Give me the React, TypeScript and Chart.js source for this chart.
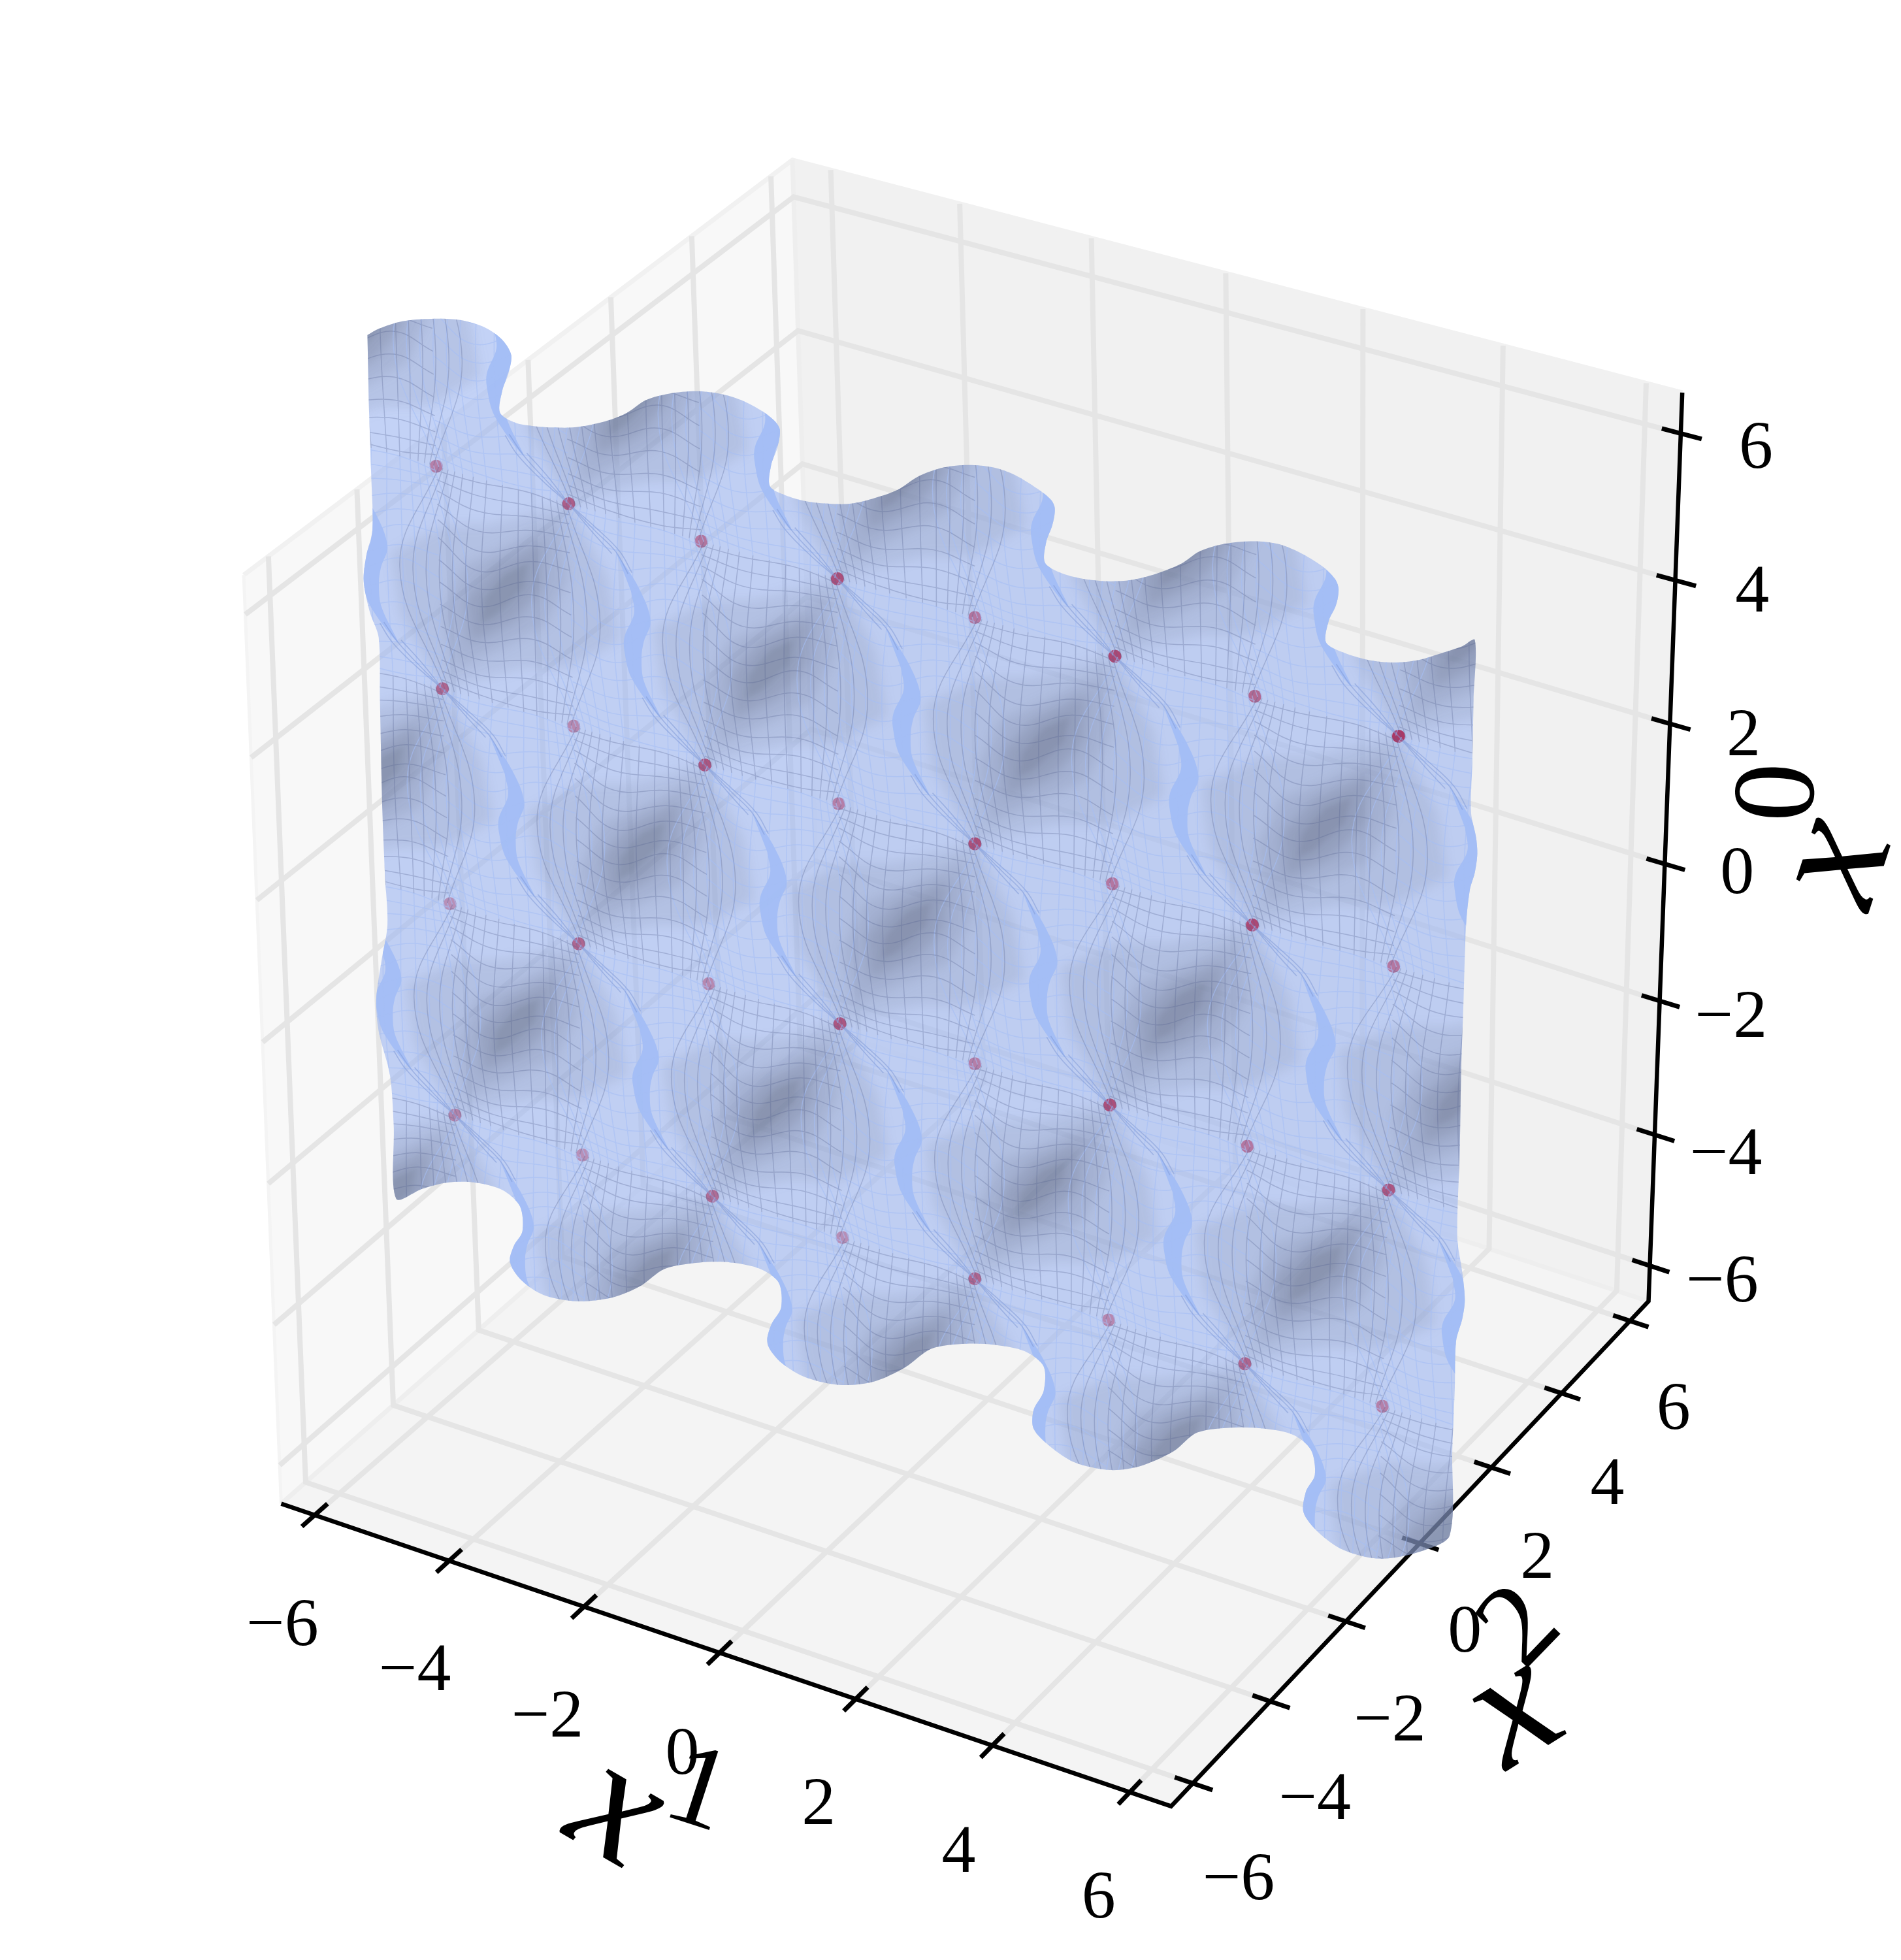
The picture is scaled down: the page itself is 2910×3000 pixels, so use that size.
import React, { useEffect, useRef } from "react";
import { Chart, registerables } from "chart.js";

// ---- data (plot units: 1521 x 1568 plane) ----
const tickValues = [-6, -4, -2, 0, 2, 4, 6];
const tickLabels = ["\u22126", "\u22124", "\u22122", "0", "2", "4", "6"];
const axisLimit = 6.55;

const floorCorners = [[225, 1203], [937, 1445], [1319, 1041], [657, 823]];
const wallLeftCorners = [[225, 1203], [657, 823], [634, 128], [195, 460]];
const wallRightCorners = [[657, 823], [1319, 1041], [1346, 314], [634, 128]];

const x1LabelX = [226, 332, 438, 546, 655, 767, 879];
const x1LabelY = [1302, 1338, 1375, 1405, 1445, 1483, 1520];
const x2LabelX = [991, 1052, 1112, 1172, 1230, 1286, 1339];
const x2LabelY = [1505, 1441, 1378, 1307, 1248, 1189, 1129];
const x0LabelX = [1378, 1381, 1385, 1390, 1395, 1402, 1405];
const x0LabelY = [1027, 925, 815, 700, 590, 475, 360];

// lattice of marked points; rows -1 and 4, columns -1 and 8 lie off the surface
const latticeX = [
  [237, 344, 451, 558, 669, 780, 894, 1006, 1123, 1241],
  [245, 349, 455, 561, 670, 780, 892, 1004, 1119, 1238],
  [250, 354, 459, 564, 671, 780, 890, 1002, 1115, 1232],
  [257, 360, 463, 567, 672, 780, 888, 998, 1111, 1227],
  [262, 364, 466, 570, 674, 780, 887, 996, 1106, 1219],
  [267, 368, 469, 573, 676, 780, 886, 994, 1101, 1210],
];
const latticeY = [
  [160, 189, 218, 248, 277, 307, 337, 368, 399, 432],
  [344, 373, 403, 433, 463, 494, 525, 557, 589, 622],
  [523, 551, 581, 612, 643, 675, 707, 740, 773, 807],
  [693, 723, 755, 787, 819, 851, 884, 917, 952, 988],
  [862, 892, 924, 957, 990, 1023, 1056, 1091, 1125, 1160],
  [1024, 1056, 1088, 1122, 1156, 1190, 1224, 1260, 1292, 1330],
];
const markAlpha = [
  [.5, .7, .55, .8, .55, .85, .65, .95],
  [.65, .45, .75, .5, .8, .55, .85, .55],
  [.4, .65, .45, .75, .5, .8, .55, .75],
  [.45, .4, .6, .4, .65, .45, .65, .5],
];

const outline = [[294,268],[303,263],[322,257],[345,255],[368,256],[388,262],[402,272],[409,284],[407,298],[402,312],[400,330],[412,338],[428,341],[443,342],[458,342],[472,340],[488,336],[502,330],[517,320],[535,315],[557,313],[576,315],[593,320],[610,329],[620,337],[624,344],[622,358],[617,372],[616,389],[628,396],[645,401],[664,403],[680,403],[698,399],[718,392],[735,381],[755,374],[775,372],[795,374],[812,380],[830,391],[841,400],[844,407],[842,420],[837,434],[836,450],[848,458],[866,463],[886,465],[905,464],[925,459],[945,451],[960,441],[980,435],[1003,433],[1022,435],[1040,442],[1058,453],[1068,463],[1071,471],[1069,484],[1063,497],[1061,514],[1075,522],[1095,528],[1115,530],[1135,528],[1155,522],[1170,517],[1180,512],[1179,560],[1178,610],[1177,650],[1181,670],[1182,683],[1180,698],[1176,712],[1173,740],[1171,800],[1169,860],[1168,920],[1166,990],[1170,1018],[1172,1040],[1170,1055],[1165,1073],[1164,1110],[1162,1160],[1160,1228],[1140,1240],[1105,1247],[1075,1240],[1055,1226],[1043,1210],[1045,1193],[1052,1180],[1049,1160],[1035,1148],[1012,1143],[988,1142],[958,1146],[939,1161],[912,1173],[888,1176],[860,1170],[840,1157],[827,1143],[827,1128],[835,1113],[835,1093],[820,1081],[797,1076],[773,1075],[745,1079],[724,1094],[700,1105],[673,1108],[645,1102],[625,1090],[614,1075],[617,1060],[625,1046],[623,1026],[608,1015],[585,1010],[560,1010],[532,1015],[512,1029],[490,1038],[462,1041],[435,1036],[418,1025],[408,1010],[411,997],[418,985],[416,965],[402,952],[380,946],[358,946],[338,951],[317,959],[315,900],[312,860],[303,825],[301,800],[305,770],[310,740],[308,700],[306,650],[304,560],[303,510],[296,490],[291,465],[293,445],[298,424],[297,380],[295,320]];

// tile shapes, in lattice-cell fractions (u across, v down)
const darkShape1 = [[1,0],[1.28,.28],[1.36,.55],[.98,.74],[.62,.8],[0,1],[-.3,.72],[-.36,.45],[.04,.26],[.38,.2]];
const darkShape2 = [[.92,.08],[.98,.34],[.8,.58],[.5,.72],[.1,.9],[.02,.66],[.18,.42],[.5,.28]];
const darkShape3 = [[.8,.2],[.78,.42],[.56,.6],[.22,.76],[.2,.56],[.42,.38]];
const darkShape4 = [[.68,.32],[.64,.44],[.42,.6],[.31,.65],[.34,.54],[.5,.4]];
const foldShape = [[.35,.156],[.52,.29],[.605,.423],[.55,.526],[.53,.602],[.545,.704],[.665,.844],[.455,.71],[.4,.59],[.405,.526],[.48,.41],[.46,.315]];
const foldLines = [
  [[0,0],[.2,.09],[.35,.156],[.44,.24],[.56,.42],[.48,.55],[.47,.65],[.56,.77],[.665,.844],[.82,.92],[1,1]],
  [[0,0],[.18,.1],[.32,.17],[.41,.25],[.52,.42],[.44,.54],[.44,.63],[.53,.78],[.62,.85],[.8,.93],[1,1]],
  [[0,0],[.22,.08],[.38,.15],[.47,.23],[.59,.42],[.52,.54],[.5,.63],[.59,.76],[.69,.83],[.85,.91],[1,1]],
];
const meshEdge = [.02,.05,.09,.14,.2,.28,.38,.5,.62,.72,.8,.86,.91,.95,.98];
const meshMid = [-.3,-.2,-.1,0,.1,.2,.32,.46,.6,.72,.82,.92,1.02,1.12,1.22];
const meshCross = [
  [.02,.02,.0,.02],[.06,.08,.06,.05],[.11,.15,.11,.09],[.17,.24,.17,.15],[.24,.33,.24,.22],[.32,.42,.31,.3],
  [.42,.5,.4,.4],[.52,.58,.46,.5],[.62,.66,.56,.6],[.72,.74,.66,.7],[.8,.82,.76,.78],[.87,.89,.84,.85],[.92,.94,.92,.91],[.96,.98,.98,.95],
];
const meshCrossStops = [0, .3, .7, 1];

// ---- helpers ----
function quad(c: number[][], u: number, v: number) {
  const [[x0,y0],[x1,y1],[x2,y2],[x3,y3]] = c;
  const dx1=x1-x2, dx2=x3-x2, sx=x0-x1+x2-x3, dy1=y1-y2, dy2=y3-y2, sy=y0-y1+y2-y3;
  const den=dx1*dy2-dx2*dy1;
  const g=(sx*dy2-dx2*sy)/den, h=(dx1*sy-sx*dy1)/den;
  const a=x1-x0+g*x1, b=x3-x0+h*x3, d=y1-y0+g*y1, e=y3-y0+h*y3;
  const w=g*u+h*v+1;
  return { x:(a*u+b*v+x0)/w, y:(d*u+e*v+y0)/w };
}
const frac = (k: number) => (k + axisLimit) / (2 * axisLimit);
const tile = (r: number, c: number, u: number, v: number) => {
  const X = latticeX, Y = latticeY;
  return {
    x: (1-u)*(1-v)*X[r][c] + u*(1-v)*X[r][c+1] + (1-u)*v*X[r+1][c] + u*v*X[r+1][c+1],
    y: (1-u)*(1-v)*Y[r][c] + u*(1-v)*Y[r][c+1] + (1-u)*v*Y[r+1][c] + u*v*Y[r+1][c+1],
  };
};
const GAP = { x: NaN, y: NaN };
const ROWS = latticeX.length - 1, COLS = latticeX[0].length - 1;
const isDark = (r: number, c: number) => (r + c) % 2 === 0;

function buildDatasets() {
  const out: any[] = [];
  const poly = (pts: any[], color: string, extra: any = {}) =>
    out.push({ data: [...pts], showLine: true, fill: "shape", backgroundColor: color, borderWidth: 0, pointRadius: 0, tension: 0, ...extra });
  const path = (pts: any[], color: string, w: number, clip = false, tension = 0) =>
    out.push({ data: pts, showLine: true, fill: false, borderColor: color, borderWidth: w, pointRadius: 0, tension, surfaceClip: clip, borderCapStyle: "butt" });

  // panes
  const pane = (c: number[][], col: string) => poly(c.map(([x, y]) => ({ x, y })), col);
  pane(wallLeftCorners, "#f8f8f8");
  pane(wallRightCorners, "#f1f1f1");
  pane(floorCorners, "#f4f4f4");
  // pane edges
  path([...[wallLeftCorners[3], wallLeftCorners[2], wallRightCorners[2]].map(([x, y]) => ({ x, y }))], "#f1f1f1", 7);
  path([wallLeftCorners[3], wallLeftCorners[0]].map(([x, y]) => ({ x, y })), "#f4f4f4", 5);
  path([wallLeftCorners[2], wallLeftCorners[1]].map(([x, y]) => ({ x, y })), "#eeeeee", 7);
  path([wallLeftCorners[1], wallLeftCorners[0]].map(([x, y]) => ({ x, y })), "#eeeeee", 7);
  path([wallLeftCorners[1], floorCorners[2]].map(([x, y]) => ({ x, y })), "#eeeeee", 7);
  // grid
  const grid = "#e5e5e5";
  for (const k of tickValues) {
    const t = frac(k);
    const tf = (k + 6.5) / 13.1, tb = t + .004;
    path([quad(floorCorners, tf, 0), quad(floorCorners, tb, 1), quad(wallRightCorners, tb, 1)], grid, 8);
    path([quad(floorCorners, 1, t), quad(floorCorners, 0, t), quad(wallLeftCorners, t, 1)], grid, 8);
    path([quad(wallLeftCorners, 0, t), quad(wallLeftCorners, 1, t), quad(wallRightCorners, 1, t)], grid, 8);
  }
  // axes
  const black = "#000000";
  path([quad(floorCorners, 0, 0), quad(floorCorners, 1, 0), quad(floorCorners, 1, 1), quad(wallRightCorners, 1, 1)], black, 6.5);
  for (const k of tickValues) {
    const t = frac(k), tf = (k + 6.5) / 13.1;
    path([quad(floorCorners, tf, -.022), quad(floorCorners, tf, .022)], black, 7);
    path([quad(floorCorners, .98, t), quad(floorCorners, 1.022, t)], black, 7);
    path([quad(wallRightCorners, .98, t), quad(wallRightCorners, 1.022, t)], black, 7);
  }
  // surface
  poly(outline.map(([x, y]) => ({ x, y })), "rgba(158,183,240,0.62)", { tension: .3, isOutline: true });
  // shading
  for (let r = 0; r < ROWS; r++) for (let c = 0; c < COLS; c++) {
    if (!isDark(r, c)) continue;
    const soft = { surfaceClip: true, soft: 9 };
    poly(darkShape1.map(([u, v]) => tile(r, c, u, v)), "rgba(95,100,125,0.13)", soft);
    poly(darkShape2.map(([u, v]) => tile(r, c, u, v)), "rgba(95,100,125,0.15)", soft);
    poly(darkShape3.map(([u, v]) => tile(r, c, u, v)), "rgba(85,90,110,0.2)", soft);
    poly(darkShape4.map(([u, v]) => tile(r, c, u, v)), "rgba(70,75,95,0.14)", { surfaceClip: true, soft: 5 });
  }
  // folds
  for (let r = 0; r < ROWS; r++) for (let c = 0; c < COLS; c++) {
    if (isDark(r, c)) continue;
    poly(foldShape.map(([u, v]) => tile(r, c, u, v)), "rgba(160,188,246,0.88)", { surfaceClip: true, tension: .35 });
  }
  // marked points
  const marks: any[] = [], colors: string[] = [];
  for (let r = 1; r <= 4; r++) for (let c = 1; c <= 8; c++) {
    marks.push({ x: latticeX[r][c], y: latticeY[r][c] });
    colors.push(`rgba(170,50,95,${markAlpha[r - 1][c - 1]})`);
  }
  out.push({ data: marks, showLine: false, pointRadius: 10, pointBorderWidth: 0, pointBackgroundColor: colors });
  // mesh
  const meshFor = (dark: boolean) => {
    const pts: any[] = [];
    for (let r = 0; r < ROWS; r++) for (let c = 0; c < COLS; c++) {
      if (isDark(r, c) !== dark) continue;
      meshEdge.forEach((e, i) => {
        pts.push(tile(r, c, e, 0), tile(r, c, meshMid[i], .5), tile(r, c, e, 1), GAP);
      });
      meshCross.forEach((row) => {
        row.forEach((v, i) => pts.push(tile(r, c, meshCrossStops[i], v)));
        pts.push(GAP);
      });
    }
    return pts;
  };
  path(meshFor(false), "rgba(165,190,245,0.6)", 1.5, true, .4);
  path(meshFor(true), "rgba(85,100,145,0.3)", 1.5, true, .4);
  const folds: any[] = [];
  for (let r = 0; r < ROWS; r++) for (let c = 0; c < COLS; c++) {
    if (isDark(r, c)) continue;
    foldLines.forEach((l) => {
      l.forEach(([u, v]) => folds.push(v > .24 && v < .77 ? GAP : tile(r, c, u, v)));
      folds.push(GAP);
    });
  }
  path(folds, "rgba(130,155,215,0.55)", 1.6, true, .4);
  return out.reverse();
}

// clip surface details to the outline; must run ahead of the filler plugin
const surfaceClipPlugin = {
  id: "surfaceClip",
  beforeDatasetDraw(chart: any, args: any) {
    const ds = chart.data.datasets[args.index];
    if (!ds.surfaceClip) return;
    const { ctx } = chart;
    const idx = chart.data.datasets.findIndex((d: any) => d.isOutline);
    ctx.save();
    ctx.beginPath();
    chart.getDatasetMeta(idx).dataset.path(ctx);
    ctx.closePath();
    ctx.clip();
    if (ds.soft) ctx.filter = `blur(${ds.soft}px)`;
  },
  afterDatasetDraw(chart: any, args: any) {
    if (chart.data.datasets[args.index].surfaceClip) chart.ctx.restore();
  },
};

const labelsPlugin = {
  id: "axisText",
  afterDatasetsDraw(chart: any) {
    const { ctx, scales } = chart;
    const put = (text: string, x: number, y: number, font: string, rot = 0) => {
      ctx.save();
      ctx.translate(scales.x.getPixelForValue(x), scales.y.getPixelForValue(y));
      ctx.rotate((rot * Math.PI) / 180);
      ctx.font = font;
      ctx.fillStyle = "#000";
      ctx.textAlign = "center";
      ctx.textBaseline = "middle";
      ctx.fillText(text, 0, 0);
      ctx.restore();
    };
    const f = "104px 'Liberation Serif'";
    tickLabels.forEach((t, i) => {
      put(t, x1LabelX[i], x1LabelY[i], f);
      put(t, x2LabelX[i], x2LabelY[i], f);
      put(t, x0LabelX[i], x0LabelY[i], f);
    });
    const big = "italic 264px 'Liberation Serif'";
    const sup = "180px 'Liberation Serif'";
    put("x", 493, 1450, big, 30);
    put("1", 558, 1435, sup, 18);
    put("x", 1212, 1370, big, -32);
    put("2", 1218, 1303, sup, -46);
    put("x", 1470, 690, big, -72);
    put("0", 1426, 634, sup, -88);
  },
};

Chart.register(surfaceClipPlugin, ...registerables, labelsPlugin);

export default function App() {
  const ref = useRef<HTMLCanvasElement>(null);
  useEffect(() => {
    const chart = new Chart(ref.current as any, {
      type: "scatter",
      data: { datasets: buildDatasets() },
      options: {
        animation: false,
        responsive: false,
        devicePixelRatio: 1,
        events: [],
        layout: { padding: 0, autoPadding: false },
        plugins: { legend: { display: false }, tooltip: { enabled: false }, title: { display: false } },
        scales: {
          x: { type: "linear", min: 0, max: 1521, display: false },
          y: { type: "linear", min: 0, max: 1568, reverse: true, display: false },
        },
      },
    } as any);
    return () => chart.destroy();
  }, []);
  return (
    <div style={{ position: "absolute", left: 0, top: 0, width: 2910, height: 3000, background: "#fff" }}>
      <canvas ref={ref} width={2910} height={3000} style={{ display: "block" }} />
    </div>
  );
}
